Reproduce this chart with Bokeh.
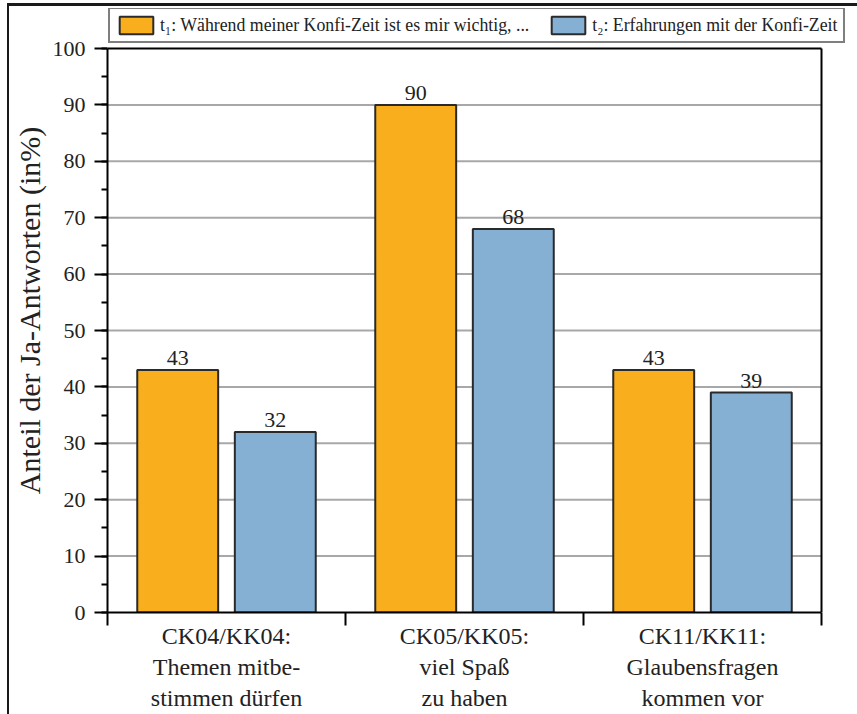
from bokeh.plotting import figure
from bokeh.models import (Legend, LegendItem, FixedTicker, SingleIntervalTicker,
                          ColumnDataSource, Range1d)
from bokeh.transform import dodge
from bokeh.core.properties import value
from bokeh.embed import file_html
from bokeh.resources import INLINE
import numpy as np

categories = ["CK04/KK04:\nThemen mitbe-\nstimmen dürfen",
              "CK05/KK05:\nviel Spaß\nzu haben",
              "CK11/KK11:\nGlaubensfragen\nkommen vor"]
t1_values = [43, 90, 43]
t2_values = [32, 68, 39]
series_labels = ["t\u2081: Während meiner Konfi-Zeit ist es mir wichtig, ...",
                 "t\u2082: Erfahrungen mit der Konfi-Zeit"]
y_ticks = list(range(0, 101, 10))
y_label = "Anteil der Ja-Antworten (in%)"

FONT = "Liberation Serif"
ORANGE = "#F8AE1D"
BLUE = "#85B0D3"
EDGE = "#2a2a2a"
TXT = "#222222"

n = len(categories)
xs = np.arange(n) + 0.5
src = ColumnDataSource(dict(x=xs, t1=t1_values, t2=t2_values,
                            t1s=[str(v) for v in t1_values],
                            t2s=[str(v) for v in t2_values]))

# plot area is 714 x 564 px; the frame is extended up and right so the
# legend above the plot area lies inside it
PX_X = 714 / n
PX_Y = 564 / 100
p = figure(frame_width=751, frame_height=604, output_backend="svg",
           toolbar_location=None,
           x_range=Range1d(0, n + 37 / PX_X),
           y_range=Range1d(0, 100 + 40 / PX_Y),
           min_border_left=97, min_border_right=0, min_border_top=2,
           min_border_bottom=102)
p.styles = {"border-left": "2px solid #1a1a1a", "border-top": "3px solid #1a1a1a",
            "margin-left": "7px", "margin-top": "3px"}
p.outline_line_color = None
p.xgrid.visible = False
p.ygrid.visible = False

# grid lines across the plot area only
grid_y = y_ticks[1:-1]
p.segment(x0=[0] * len(grid_y), x1=[n] * len(grid_y), y0=grid_y, y1=grid_y,
          line_color="#a8a8a8", line_width=2)

r1 = p.vbar(x=dodge("x", -0.205), top="t1", width=0.34, source=src,
            fill_color=ORANGE, line_color=EDGE, line_width=2)
r2 = p.vbar(x=dodge("x", 0.205), top="t2", width=0.34, source=src,
            fill_color=BLUE, line_color=EDGE, line_width=2)

p.text(x=dodge("x", -0.205), y="t1", text="t1s", source=src,
       text_font=value(FONT), text_font_size="22px", text_align="center",
       text_baseline="bottom", y_offset=-5, text_color=TXT)
p.text(x=dodge("x", 0.205), y="t2", text="t2s", source=src,
       text_font=value(FONT), text_font_size="22px", text_align="center",
       text_baseline="bottom", y_offset=-5, text_color=TXT)

# plot-area outline: top and right edges
p.segment(x0=[0, n], x1=[n, n], y0=[y_ticks[-1], y_ticks[0]],
          y1=[y_ticks[-1], y_ticks[-1]], line_color="black", line_width=2)

ya = p.yaxis[0]
ya.bounds = (y_ticks[0], y_ticks[-1])
ya.ticker = SingleIntervalTicker(interval=10, num_minor_ticks=2)
ya.axis_label = y_label
ya.axis_label_text_font = FONT
ya.axis_label_text_font_size = "30px"
ya.axis_label_text_font_style = "normal"
ya.axis_label_text_color = TXT
ya.axis_label_standoff = 4
ya.major_label_text_font = FONT
ya.major_label_text_font_size = "22px"
ya.major_label_text_color = TXT
ya.major_label_standoff = 9
ya.axis_line_width = 2
ya.axis_line_color = "black"
ya.major_tick_in = 0
ya.major_tick_out = 13
ya.major_tick_line_width = 2
ya.minor_tick_in = 0
ya.minor_tick_out = 6
ya.minor_tick_line_width = 2

xa = p.xaxis[0]
xa.bounds = (0, n)
xa.ticker = FixedTicker(ticks=list(xs), minor_ticks=list(range(n + 1)))
xa.major_label_overrides = {float(x): c for x, c in zip(xs, categories)}
xa.major_label_text_font = FONT
xa.major_label_text_font_size = "24px"
xa.major_label_text_color = TXT
xa.major_label_text_line_height = 1.2
xa.major_label_standoff = -3
xa.major_tick_in = 0
xa.major_tick_out = 0
xa.minor_tick_in = 0
xa.minor_tick_out = 13
xa.minor_tick_line_width = 2
xa.axis_line_width = 2
xa.axis_line_color = "black"

legend = Legend(items=[LegendItem(label=series_labels[0], renderers=[r1]),
                       LegendItem(label=series_labels[1], renderers=[r2])],
                orientation="horizontal", location=(1, 569),
                label_text_font=FONT, label_text_font_size="17.8px",
                label_text_color=TXT,
                glyph_width=42, glyph_height=22, label_standoff=3, spacing=18,
                padding=5, margin=0, border_line_color="black",
                border_line_width=2, background_fill_alpha=1,
                label_height=22)
p.add_layout(legend, "center")

open("out.html", "w").write(file_html(p, INLINE))
